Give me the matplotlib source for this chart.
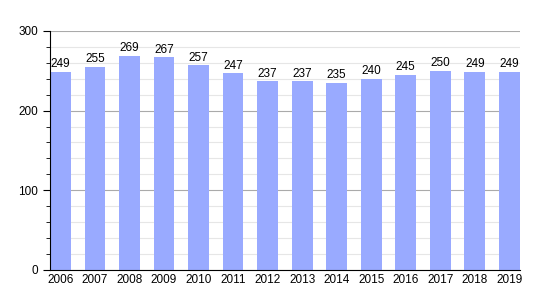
import numpy as np
import matplotlib.pyplot as plt
from matplotlib.ticker import MultipleLocator

plt.rcParams['font.family'] = ['Liberation Sans', 'DejaVu Sans']

years = ["2006", "2007", "2008", "2009", "2010", "2011", "2012",
         "2013", "2014", "2015", "2016", "2017", "2018", "2019"]
values = [249, 255, 269, 267, 257, 247, 237, 237, 235, 240, 245, 250, 249, 249]

fig = plt.figure(figsize=(5.5, 3), dpi=100)
ax = fig.add_axes([0.091, 0.1, 0.854, 0.797])

x = np.arange(len(years))
w = 0.6
ax.bar(x, values, width=w, color="#99aaff", zorder=2)
for xi, v in zip(x, values):
    ax.text(xi, v + 2, str(v), ha="center", va="bottom", fontsize=8.5, color="black")

ax.set_xlim(-w / 2, len(years) - 1 + w / 2)
ax.set_ylim(0, 300)
ax.yaxis.set_major_locator(MultipleLocator(100))
ax.yaxis.set_minor_locator(MultipleLocator(20))
ax.grid(axis="y", which="major", color="#aaaaaa", linewidth=0.8, zorder=0)
ax.grid(axis="y", which="minor", color="#e6e6e6", linewidth=0.8, zorder=0)

ax.set_xticks(x)
ax.set_xticklabels(years, fontsize=8.5)
ax.tick_params(axis="x", length=0, pad=3)
ax.tick_params(axis="y", which="major", length=5, labelsize=8.5)
ax.tick_params(axis="y", which="minor", length=3)

for s in ["top", "right"]:
    ax.spines[s].set_visible(False)

fig.savefig("out.png")
